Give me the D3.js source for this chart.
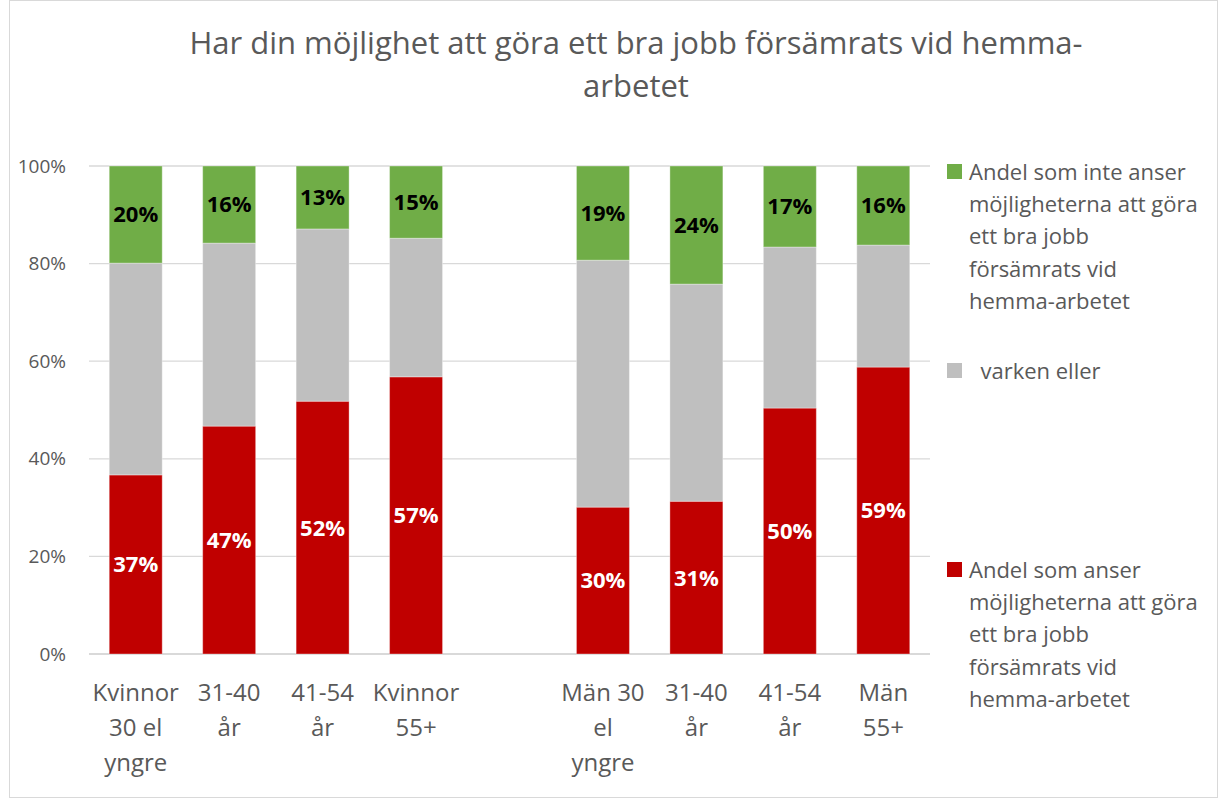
<!DOCTYPE html>
<html>
<head>
<meta charset="utf-8">
<script src="https://cdn.jsdelivr.net/npm/d3@7"></script>
<style>
  body { margin: 0; background: #fff; }
  text { font-family: "Open Sans", "Noto Sans", sans-serif; }
</style>
</head>
<body>
<div id="chart"></div>
<script>
// Data (percent). The empty slot is the gap between the groups.
const categories = [
  ["Kvinnor", "30 el", "yngre"],
  ["31-40", "år"],
  ["41-54", "år"],
  ["Kvinnor", "55+"],
  [],
  ["Män 30", "el", "yngre"],
  ["31-40", "år"],
  ["41-54", "år"],
  ["Män", "55+"]
];
const worse   = [36.7, 46.7, 51.8, 56.8, null, 30.1, 31.3, 50.4, 58.8];
const neither = [43.4, 37.5, 35.3, 28.4, null, 50.6, 44.5, 33.0, 25.0];
const notWorse = [19.9, 15.8, 12.9, 14.8, null, 19.3, 24.2, 16.6, 16.2];
const yTicks = [0, 20, 40, 60, 80, 100];

const titleLines = ["Har din möjlighet att göra ett bra jobb försämrats vid hemma-", "arbetet"];
const legendItems = [
  {key: "notWorse", color: "#70ad47", lines: ["Andel som inte anser", "möjligheterna att göra", "ett bra jobb", "försämrats vid", "hemma-arbetet"]},
  {key: "neither", color: "#bfbfbf", lines: ["  varken eller"]},
  {key: "worse", color: "#c00000", lines: ["Andel som anser", "möjligheterna att göra", "ett bra jobb", "försämrats vid", "hemma-arbetet"]}
];

const W = 1222, H = 801;
const margin = {top: 166, right: 292, bottom: 147, left: 89};
const width = W - margin.left - margin.right,
      height = H - margin.top - margin.bottom;

const root = d3.select("#chart").append("svg")
  .attr("width", W).attr("height", H);

// outer chart border
root.append("rect")
  .attr("x", 9.5).attr("y", 0.5).attr("width", 1208).attr("height", 797)
  .attr("fill", "#fff").attr("stroke", "#d9d9d9");

// title, one text per line
root.append("g").selectAll("text").data(titleLines).join("text")
  .attr("x", 636).attr("y", (d, i) => 54 + i * 43)
  .attr("text-anchor", "middle")
  .attr("fill", "#595959")
  .style("font-size", "31px")
  .text(d => d);

const svg = root.append("g")
  .attr("transform", `translate(${margin.left},${margin.top})`);

const x = d3.scaleBand()
  .domain(categories.map((d, i) => i))
  .range([0, width])
  .paddingInner(0.433)
  .paddingOuter(0.2165);

const y = d3.scaleLinear().domain([0, 100]).range([height, 0]);

// gridlines
svg.append("g")
  .selectAll("line").data(yTicks).join("line")
    .attr("x1", 0).attr("x2", width)
    .attr("y1", d => y(d)).attr("y2", d => y(d))
    .attr("stroke", "#d9d9d9").attr("stroke-width", d => d === 0 ? 2 : 1.3);

// y axis labels
svg.append("g")
  .call(d3.axisLeft(y).tickValues(yTicks).tickFormat(d => d + "%").tickSize(0).tickPadding(23))
  .call(g => g.select(".domain").remove())
  .selectAll("text")
    .attr("fill", "#595959")
    .style("font-size", "19px")
    .style("font-family", "'Open Sans', sans-serif");

// stacked bars
const rows = categories.map((c, i) => ({i, worse: worse[i], neither: neither[i], notWorse: notWorse[i]}))
  .filter(d => d.worse !== null);
const keys = ["worse", "neither", "notWorse"];
const colors = {worse: "#c00000", neither: "#bfbfbf", notWorse: "#70ad47"};
const stack = d3.stack().keys(keys)(rows);

const layers = svg.selectAll("g.layer").data(stack).join("g")
  .attr("class", "layer")
  .attr("fill", d => colors[d.key]);

layers.selectAll("rect").data(d => d).join("rect")
  .attr("x", d => x(d.data.i))
  .attr("y", d => y(d[1]))
  .attr("width", x.bandwidth())
  .attr("height", d => y(d[0]) - y(d[1]))
  .attr("stroke", "#fff").attr("stroke-opacity", 0.35).attr("stroke-width", 1);

// data labels (red and green only)
stack.filter(s => s.key !== "neither").forEach(s => {
  svg.append("g").selectAll("text").data(s).join("text")
    .attr("x", d => x(d.data.i) + x.bandwidth() / 2)
    .attr("y", d => (y(d[0]) + y(d[1])) / 2)
    .attr("dy", "0.36em")
    .attr("text-anchor", "middle")
    .attr("fill", s.key === "worse" ? "#fff" : "#000")
    .style("font-size", "22px")
    .style("font-weight", "bold")
    .text(d => Math.round(d.data[s.key]) + "%");
});

// x labels
const xl = svg.append("g").selectAll("text").data(categories.map((c, i) => ({c, i}))).join("text")
  .attr("x", d => x(d.i) + x.bandwidth() / 2)
  .attr("y", height + 47)
  .attr("text-anchor", "middle")
  .attr("fill", "#595959")
  .style("font-size", "24px");
xl.selectAll("tspan").data(d => d.c.map(t => ({t, cx: x(d.i) + x.bandwidth() / 2}))).join("tspan")
  .attr("x", d => d.cx)
  .attr("dy", (d, i) => i ? 35 : 0)
  .text(d => d.t);

// legend
const legendTop = [172, 371, 570];
const leg = root.append("g");
legendItems.forEach((item, k) => {
  const g = leg.append("g").attr("transform", `translate(947,${legendTop[k]})`);
  g.append("rect").attr("x", 0).attr("y", -8).attr("width", 15).attr("height", 15)
    .attr("fill", item.color);
  g.append("text")
    .attr("x", 22).attr("y", 0)
    .attr("fill", "#595959")
    .style("font-size", "22px")
    .selectAll("tspan").data(item.lines).join("tspan")
      .attr("x", 22).attr("dy", (d, i) => i ? 32.3 : "0.35em")
      .attr("xml:space", "preserve")
      .text(d => d);
});
</script>
</body>
</html>
